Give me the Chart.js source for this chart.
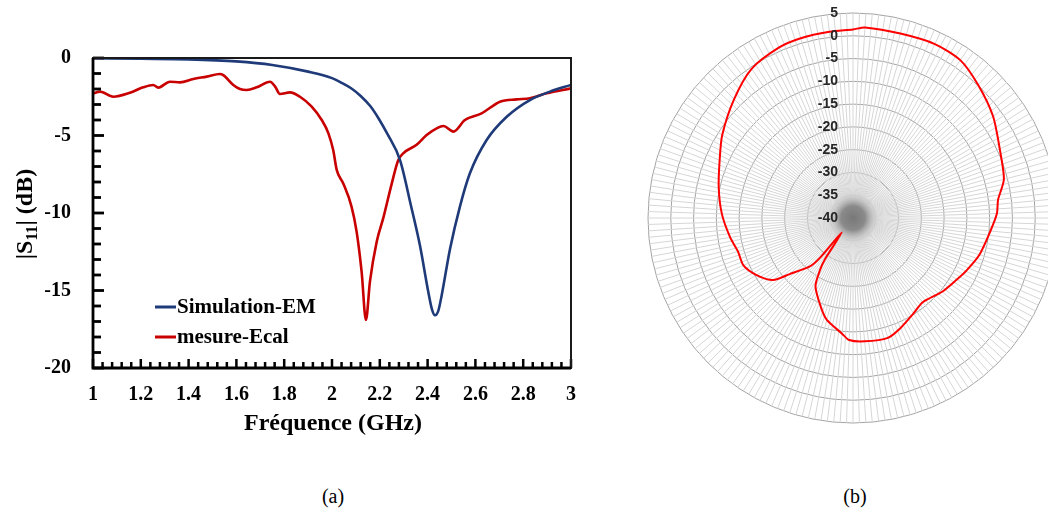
<!DOCTYPE html>
<html>
<head>
<meta charset="utf-8">
<script src="https://cdn.jsdelivr.net/npm/chart.js@4.4.0/dist/chart.umd.min.js"></script>
<style>
    html, body { margin: 0; padding: 0; background: #fff; overflow: hidden; width: 1048px; height: 517px; }
    #s11 { position: absolute; left: 0; top: 0; }
    #polar { position: absolute; left: 638px; top: 0; }
    .cap { position: absolute; top: 485px; width: 60px; text-align: center; color: #000;
           font: 20px "Liberation Serif", "Times New Roman", serif; }
</style>
</head>
<body>
<canvas id="s11" width="600" height="460"></canvas>
<canvas id="polar" width="430" height="436"></canvas>
<div class="cap" style="left:303px">(a)</div>
<div class="cap" style="left:825px">(b)</div>
<script>
// --- données (a) : |S11| en dB ---
const simFreq = [1.0, 1.2, 1.4, 1.6, 1.75, 1.9, 2.0, 2.04, 2.08, 2.12, 2.16, 2.195, 2.23, 2.285, 2.33, 2.368, 2.403, 2.418, 2.431, 2.445, 2.459, 2.494, 2.535, 2.577, 2.647, 2.731, 2.828, 2.912, 3.0];
const simS11  = [-0.02, -0.05, -0.09, -0.22, -0.45, -0.88, -1.3, -1.6, -1.95, -2.45, -3.1, -3.9, -4.85, -6.6, -9.5, -12.1, -15.1, -16.2, -16.6, -16.3, -15.3, -12.3, -9.6, -7.44, -5.29, -3.79, -2.71, -2.17, -1.74];

const measFreq = [1.0, 1.029, 1.085, 1.155, 1.21, 1.252, 1.273, 1.322, 1.364, 1.42, 1.476, 1.531, 1.545, 1.587, 1.615, 1.643, 1.685, 1.741, 1.762, 1.782, 1.824, 1.866, 1.915, 1.957, 1.985, 2.005, 2.02, 2.047, 2.082, 2.103, 2.124, 2.142, 2.159, 2.187, 2.215, 2.25, 2.277, 2.298, 2.354, 2.396, 2.438, 2.466, 2.508, 2.556, 2.626, 2.703, 2.773, 2.828, 2.898, 3.0];
const measS11  = [-2.28, -2.17, -2.5, -2.24, -1.89, -1.74, -1.91, -1.53, -1.57, -1.35, -1.2, -1.03, -1.1, -1.74, -2.0, -2.06, -1.89, -1.53, -1.85, -2.32, -2.22, -2.5, -3.14, -4.0, -4.86, -5.94, -7.23, -8.09, -9.6, -11.2, -13.8, -16.9, -14.4, -11.85, -10.3, -8.1, -6.6, -6.15, -5.6, -4.97, -4.54, -4.39, -4.75, -4.0, -3.57, -2.82, -2.67, -2.6, -2.28, -1.96];

// --- données (b) : diagramme de rayonnement (dB) ---
const polarTicks  = [5, 0, -5, -10, -15, -20, -25, -30, -35, -40];
const polarAngles = [0, 4, 14, 25, 34, 44, 54, 65, 75, 83, 88, 96, 106, 115, 121, 129, 140, 148, 157, 164, 174, 181, 186, 195, 200, 208, 212, 215, 217, 219, 222, 228, 232, 239, 247, 253, 261, 271, 283, 294, 303, 315, 325, 336, 344, 353];
const polarGain   = [1.4, 1.9, 1.8, 2.2, 1.9, 0.1, -2.0, -4.4, -5.8, -7.9, -8.4, -9.7, -11.1, -12.6, -13.5, -14.6, -16.0, -15.2, -13.7, -12.6, -12.8, -13.2, -14.5, -16.9, -19.2, -22.9, -26.5, -29, -36, -29, -26, -21.3, -17.8, -15.4, -13.8, -13.7, -12.7, -11.2, -9.8, -8.1, -6.0, -3.1, -0.4, 0.8, 1.1, 1.2];
const N_SPOKES = 200;

const serif = '"Liberation Serif", "Times New Roman", serif';

// --- décor du graphe (a): cadre, graduations internes, légende, titres ---
const s11Decor = {
    id: 's11Decor',
    afterDraw(chart) {
        const ctx = chart.ctx;
        const a = chart.chartArea;
        const xs = chart.scales.x, ys = chart.scales.y;
        ctx.save();
        ctx.fillStyle = '#000';
        // graduations intérieures
        for (let k = 0; k <= 50; k++) {
            const px = xs.getPixelForValue(1 + k * 0.04);
            const len = k % 5 === 0 ? 9 : 6;
            ctx.fillRect(px - 1.25, a.bottom - len, 2.5, len);
        }
        for (let k = 0; k <= 20; k++) {
            const py = ys.getPixelForValue(-k);
            const len = k % 5 === 0 ? 11 : 8;
            ctx.fillRect(a.left, py - 1.4, len, 2.8);
        }

        ctx.lineWidth = 2;
        ctx.strokeStyle = '#1a1a1a';
        ctx.strokeRect(a.left, a.top, a.right - a.left, a.bottom - a.top);
        ctx.lineWidth = 2.8;
        ctx.strokeStyle = '#000';
        ctx.beginPath();
        ctx.moveTo(a.left, a.top); ctx.lineTo(a.left, a.bottom); ctx.lineTo(a.right, a.bottom);
        ctx.stroke();

        // légende
        ctx.font = 'bold 21px ' + serif;
        ctx.textBaseline = 'middle';
        chart.data.datasets.forEach((ds, i) => {
            const ly = 307 + i * 30;
            ctx.strokeStyle = ds.borderColor;
            ctx.lineWidth = 3;
            ctx.beginPath(); ctx.moveTo(155, ly); ctx.lineTo(176, ly); ctx.stroke();
            ctx.fillText(ds.label, 177, ly + 1);
        });

        // titre X
        ctx.font = 'bold 24px ' + serif;
        ctx.textAlign = 'center';
        ctx.fillText('Fréquence (GHz)', 333, 424);

        // titre Y avec indice
        ctx.translate(24, 214);
        ctx.rotate(-Math.PI / 2);
        ctx.textAlign = 'left';
        ctx.textBaseline = 'alphabetic';
        const big = 'bold 24px ' + serif, small = 'bold 16px ' + serif;
        ctx.font = big; const w1 = ctx.measureText('|S').width, w3 = ctx.measureText('| (dB)').width;
        ctx.font = small; const w2 = ctx.measureText('11').width;
        let tx = -(w1 + w2 + w3) / 2;
        ctx.font = big; ctx.fillText('|S', tx, 8); tx += w1;
        ctx.font = small; ctx.fillText('11', tx, 13); tx += w2;
        ctx.font = big; ctx.fillText('| (dB)', tx, 8);
        ctx.restore();
    }
};

new Chart(document.getElementById('s11'), {
    type: 'line',
    data: {
        datasets: [
            { label: 'Simulation-EM', data: simFreq.map((f, i) => ({ x: f, y: simS11[i] })),
              borderColor: '#1f3a78', borderWidth: 2.6, pointRadius: 0, cubicInterpolationMode: 'monotone', fill: false },
            { label: 'mesure-Ecal', data: measFreq.map((f, i) => ({ x: f, y: measS11[i] })),
              borderColor: '#c80000', borderWidth: 2.6, pointRadius: 0, cubicInterpolationMode: 'monotone', fill: false }
        ]
    },
    options: {
        responsive: false, animation: false, devicePixelRatio: 1,
        layout: { padding: { top: 58, right: 29, left: 0, bottom: 0 } },
        plugins: { legend: { display: false }, tooltip: { enabled: false } },
        scales: {
            x: {
                type: 'linear', min: 1, max: 3,
                grid: { display: false, drawTicks: false }, border: { display: false },
                ticks: { stepSize: 0.2, padding: 15, color: '#000', maxRotation: 0, autoSkip: false,
                         font: { family: serif, size: 20, weight: 'bold' },
                         callback: v => String(+v.toFixed(1)) },
                afterFit: s => { s.height = 92; }
            },
            y: {
                min: -20, max: 0,
                grid: { display: false, drawTicks: false }, border: { display: false },
                ticks: { stepSize: 5, padding: 22, color: '#000',
                         font: { family: serif, size: 20, weight: 'bold' },
                         callback: v => String(v) },
                afterFit: s => { s.width = 93; }
            }
        }
    },
    plugins: [s11Decor]
});

// --- graphe (b): radar polaire ---
const spokeStep = 360 / N_SPOKES;
const spokeLabels = Array.from({ length: N_SPOKES }, (_, i) => String(i * spokeStep));
const spokeData = new Array(N_SPOKES).fill(null);
polarAngles.forEach((ang, i) => { spokeData[Math.round(ang / spokeStep) % N_SPOKES] = polarGain[i]; });

const polarDecor = {
    id: 'polarDecor',
    beforeDatasetsDraw(chart) {
        // zone sombre au centre, là où les rayons se rejoignent
        const r = chart.scales.r, ctx = chart.ctx;
        const g = ctx.createRadialGradient(r.xCenter, r.yCenter, 0, r.xCenter, r.yCenter, 27);
        g.addColorStop(0, 'rgba(115,115,115,0.95)');
        g.addColorStop(0.45, 'rgba(125,125,125,0.85)');
        g.addColorStop(0.7, 'rgba(165,165,165,0.45)');
        g.addColorStop(1, 'rgba(215,215,215,0)');
        ctx.save();
        ctx.fillStyle = g;
        ctx.beginPath(); ctx.arc(r.xCenter, r.yCenter, 27, 0, Math.PI * 2); ctx.fill();
        ctx.restore();
    },
    afterDatasetsDraw(chart) {
        const r = chart.scales.r, ctx = chart.ctx;
        ctx.save();
        ctx.font = 'bold 14px "Liberation Sans", Arial, sans-serif';
        ctx.fillStyle = '#262626';
        ctx.textAlign = 'right';
        ctx.textBaseline = 'middle';
        polarTicks.forEach(v => {
            ctx.fillText(String(v), r.xCenter - 15, r.yCenter - r.getDistanceFromCenterForValue(v));
        });
        ctx.restore();
    }
};

new Chart(document.getElementById('polar'), {
    type: 'radar',
    data: {
        labels: spokeLabels,
        datasets: [{ data: spokeData, borderColor: '#ff0000', borderWidth: 2, pointRadius: 0,
                     fill: false, spanGaps: true, tension: 0.25 }]
    },
    options: {
        responsive: false, animation: false, devicePixelRatio: 1,
        layout: { padding: { top: 13, bottom: 13, left: 10, right: 10 } },
        plugins: { legend: { display: false }, tooltip: { enabled: false } },
        scales: {
            r: {
                min: -40, max: 5, beginAtZero: false,
                ticks: { stepSize: 5, display: false },
                pointLabels: { display: false },
                grid: { circular: true, color: '#a3a3a3', lineWidth: 1 },
                angleLines: { display: true, color: '#d6d6d6', lineWidth: 1 }
            }
        }
    },
    plugins: [polarDecor]
});
</script>
</body>
</html>
